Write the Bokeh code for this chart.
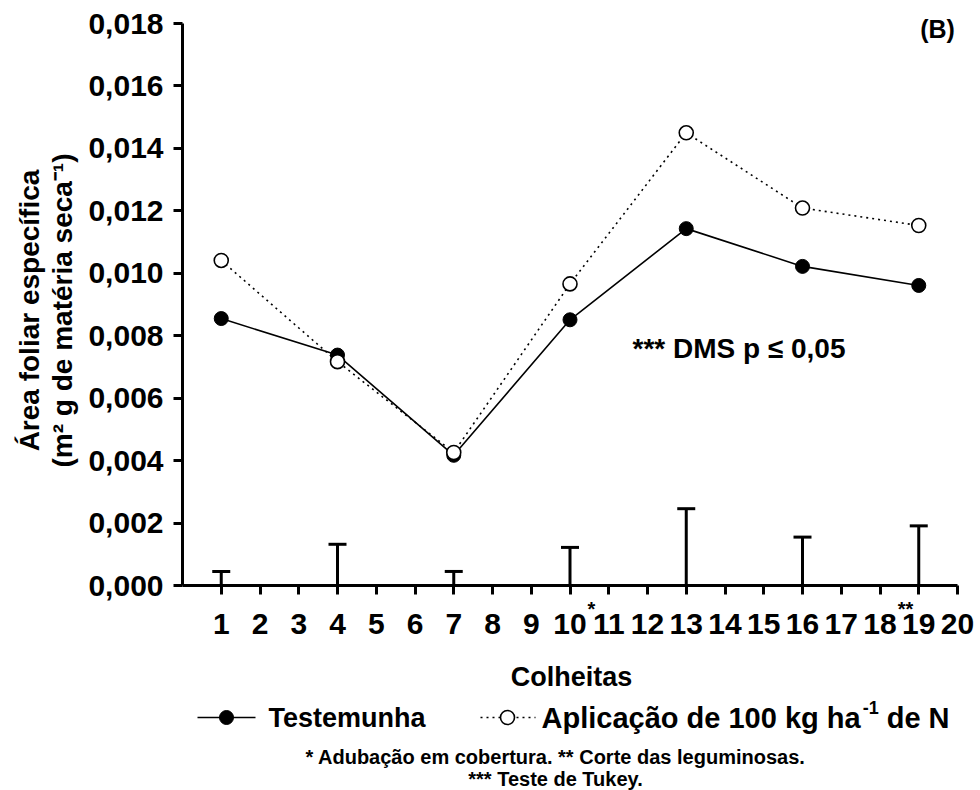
import math
from bokeh.plotting import figure
from bokeh.models import Range1d, Label, FixedTicker, CustomJSTickFormatter
from bokeh.embed import file_html
from bokeh.resources import INLINE

# ---- data ----
colheitas = [1, 4, 7, 10, 13, 16, 19]
testemunha = [0.00855, 0.00738, 0.00417, 0.00851, 0.01143, 0.01022, 0.00961]
aplicacao = [0.01041, 0.00717, 0.00426, 0.00966, 0.01450, 0.01209, 0.01153]
dms = [0.00045, 0.00132, 0.00045, 0.00122, 0.00246, 0.00155, 0.00191]
x_ticks = list(range(1, 21))
y_ticks = [0.0, 0.002, 0.004, 0.006, 0.008, 0.010, 0.012, 0.014, 0.016, 0.018]

FONT = "Liberation Sans"
W, H = 980, 790
# page pixel position of the axes box (x: 0..20, y: 0..0.018)
AX_L, AX_R, AX_T, AX_B = 182, 957, 23, 585
XMAX, YMAX = 20, 0.018
sx = (AX_R - AX_L) / XMAX
sy = (AX_B - AX_T) / YMAX


def px2x(px):
    return (px - AX_L) / sx


def px2y(py):
    return (AX_B - py) / sy


p = figure(width=W, height=H,
           x_range=Range1d(px2x(0), px2x(W)), y_range=Range1d(px2y(H), px2y(0)),
           output_backend="svg", toolbar_location=None,
           min_border_left=0, min_border_right=0, min_border_top=0, min_border_bottom=0)
p.xgrid.visible = False
p.ygrid.visible = False
p.outline_line_color = None
p.background_fill_color = "white"
p.border_fill_color = "white"

p.xaxis.fixed_location = 0
p.yaxis.fixed_location = 0
p.xaxis.bounds = (0, XMAX)
p.yaxis.bounds = (0, YMAX)
p.xaxis.ticker = FixedTicker(ticks=x_ticks)
p.yaxis.ticker = FixedTicker(ticks=y_ticks)
p.yaxis.formatter = CustomJSTickFormatter(code="return tick.toFixed(3).replace('.', ',');")
for ax in (p.xaxis, p.yaxis):
    ax.axis_line_width = 3
    ax.axis_line_color = "black"
    ax.major_tick_line_width = 3
    ax.major_tick_line_color = "black"
    ax.major_tick_out = 9
    ax.major_tick_in = 0
    ax.minor_tick_line_color = None
    ax.major_label_text_font = FONT
    ax.major_label_text_font_style = "bold"
    ax.major_label_text_font_size = "30px"
    ax.major_label_text_color = "black"
p.xaxis.major_label_standoff = 19
p.yaxis.major_label_standoff = 10

# DMS bars
p.segment(x0=colheitas, y0=[0] * len(colheitas), x1=colheitas, y1=dms,
          line_color="black", line_width=3)
p.scatter(colheitas, dms, marker="dash", size=18, line_color="black", line_width=3)

# series
p.line(colheitas, testemunha, line_color="black", line_width=1.6)
p.scatter(colheitas, testemunha, marker="circle", size=14, fill_color="black",
          line_color="black")
p.line(colheitas, aplicacao, line_color="black", line_width=1.6, line_dash="2 4")
p.scatter(colheitas, aplicacao, marker="circle", size=14, fill_color="white",
          line_color="black", line_width=1.6)


def lab(text, px, py, size="26px", align="center", baseline="middle", angle=0.0):
    p.add_layout(Label(x=px2x(px), y=px2y(py), text=text, text_font=FONT,
                       text_font_style="bold", text_font_size=size,
                       text_align=align, text_baseline=baseline, angle=angle,
                       text_color="black"))


lab("(B)", 937, 28, size="25px")
lab("*** DMS p \u2264 0,05", 632, 348, size="28px", align="left")
lab("*", 591, 608, size="20px")
lab("**", 905, 608, size="20px")
lab("Colheitas", 571, 676, size="27px")
lab("\u00c1rea foliar espec\u00edfica", 29, 310, size="28px", angle=math.pi / 2)
lab("(m\u00b2 g de mat\u00e9ria seca\u207b\u00b9)", 62, 310, size="28px", angle=math.pi / 2)

# ---- legend ----
p.line([px2x(197), px2x(255)], [px2y(717), px2y(717)], line_color="black", line_width=1.6)
p.scatter([px2x(226)], [px2y(717)], marker="circle", size=14, fill_color="black",
          line_color="black")
p.line([px2x(480), px2x(535)], [px2y(717), px2y(717)], line_color="black",
       line_width=1.6, line_dash="2 4")
p.scatter([px2x(507)], [px2y(717)], marker="circle", size=14, fill_color="white",
          line_color="black", line_width=1.6)
lab("Testemunha", 268, 717, size="27px", align="left")
# "Aplicação de 100 kg ha" (11.005 em) + superscript "-1" + "de N"
LEG_FS = 29
x0 = 541
lab("Aplica\u00e7\u00e3o de 100 kg ha", x0, 717, size=f"{LEG_FS}px", align="left")
x1 = x0 + 11.005 * LEG_FS + 2
lab("-1", x1, 707, size="18px", align="left")
x2 = x1 + 0.889 * 18 + 0.278 * LEG_FS
lab("de N", x2, 717, size=f"{LEG_FS}px", align="left")

# ---- footnotes ----
lab("* Aduba\u00e7\u00e3o em cobertura. ** Corte das leguminosas.", 555, 756, size="20px")
lab("*** Teste de Tukey.", 555, 778, size="20px")

open("out.html", "w").write(file_html(p, INLINE))
